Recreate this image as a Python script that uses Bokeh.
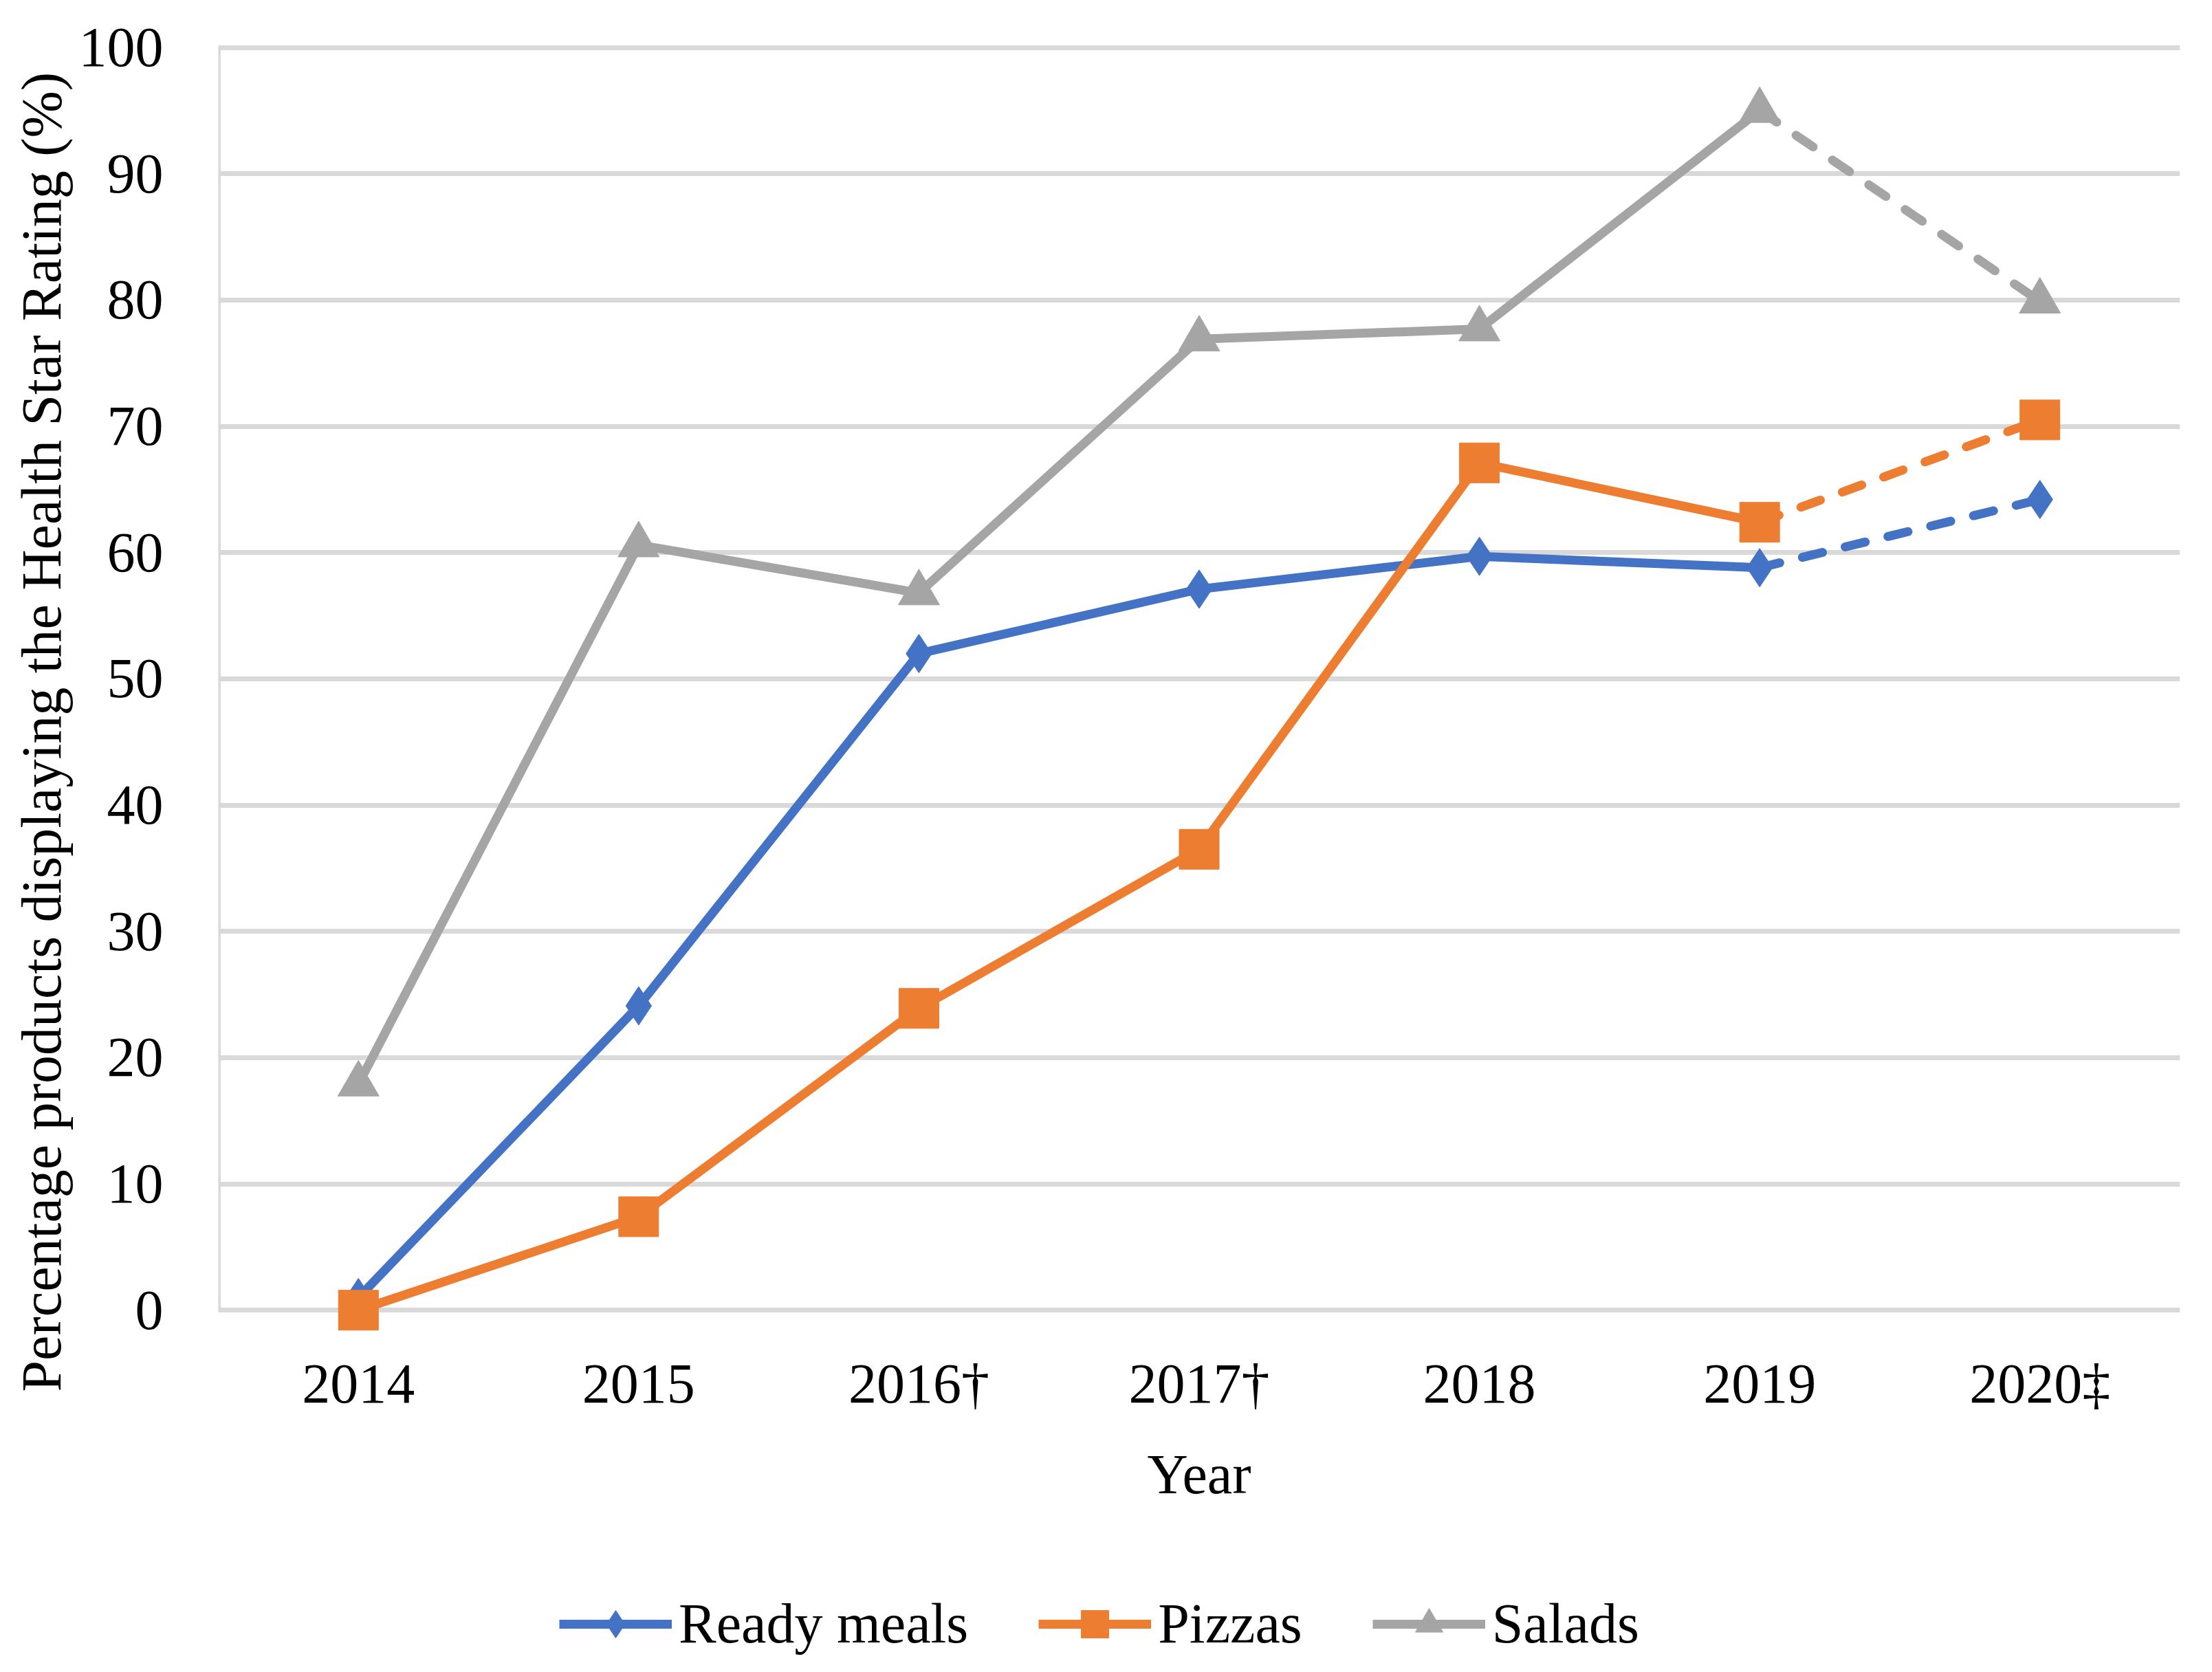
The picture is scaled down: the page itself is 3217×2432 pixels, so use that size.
from bokeh.plotting import figure
from bokeh.layouts import column
from bokeh.models import FactorRange, Range1d, FixedTicker, Legend, LegendItem, Title
from bokeh.embed import file_html
from bokeh.resources import INLINE

# ---- data ----
years = ["2014", "2015", "2016†", "2017†", "2018", "2019", "2020‡"]
ready_meals = [1.0, 24.1, 52.0, 57.1, 59.7, 58.8, 64.2]
pizzas = [0.0, 7.4, 23.9, 36.5, 67.1, 62.4, 70.5]
salads = [17.9, 60.6, 56.8, 76.9, 77.7, 95.0, 79.9]
y_ticks = [0, 10, 20, 30, 40, 50, 60, 70, 80, 90, 100]
series_names = ["Ready meals", "Pizzas", "Salads"]
y_title = "Percentage products displaying the Health Star Rating (%)"
x_title = "Year"

FONT = "Liberation Serif"
FS = "82px"
GRID = "#D9D9D9"

p = figure(
    x_range=FactorRange(*years, range_padding=0),
    y_range=Range1d(-2.0, 100.3),
    frame_width=2853, frame_height=1879,
    min_border_left=317, min_border_top=63, min_border_right=31, min_border_bottom=300,
    output_backend="svg", toolbar_location=None,
)
p.outline_line_color = None
p.background_fill_color = "white"
p.border_fill_color = "white"

# grid
p.xgrid.visible = False
p.ygrid.ticker = FixedTicker(ticks=y_ticks)
p.ygrid.grid_line_color = GRID
p.ygrid.grid_line_width = 7

# y axis
p.yaxis.ticker = FixedTicker(ticks=y_ticks)
p.yaxis.axis_line_color = None
p.yaxis.major_tick_out = 0
p.yaxis.major_tick_in = 0
p.yaxis.minor_tick_out = 0
p.yaxis.minor_tick_in = 0
p.yaxis.major_label_standoff = 80
p.yaxis.major_label_text_font = FONT
p.yaxis.major_label_text_font_size = FS
p.yaxis.major_label_text_color = "black"

ytitle = Title(text=y_title, align="left", offset=-82, standoff=12,
               text_font=FONT, text_font_size=FS, text_font_style="normal",
               text_color="black")
p.add_layout(ytitle, "left")

# x axis
p.xaxis.axis_line_color = None
p.xaxis.major_tick_out = 0
p.xaxis.major_tick_in = 0
p.xaxis.major_label_standoff = 24
p.xaxis.major_label_text_font = FONT
p.xaxis.major_label_text_font_size = FS
p.xaxis.major_label_text_color = "black"
p.xaxis.axis_label = x_title
p.xaxis.axis_label_text_font = FONT
p.xaxis.axis_label_text_font_size = FS
p.xaxis.axis_label_text_font_style = "normal"
p.xaxis.axis_label_text_color = "black"
p.xaxis.axis_label_standoff = 38

# left axis line (from 0 to 100 only)
p.segment(x0=[0], y0=[y_ticks[0]], x1=[0], y1=[y_ticks[-1]], line_color=GRID, line_width=7)

colors = ["#4472C4", "#ED7D31", "#A5A5A5"]
markers = [("diamond", 56), ("square", 58), ("triangle", 60)]
values = [ready_meals, pizzas, salads]

# legend strip below the chart
p2 = figure(width=3201, height=174, x_range=Range1d(0, 1), y_range=Range1d(0, 1),
            x_axis_location=None, y_axis_location=None, min_border=0,
            output_backend="svg", toolbar_location=None)
p2.outline_line_color = None
p2.grid.visible = False
p2.background_fill_color = "white"
p2.border_fill_color = "white"

nan = float("nan")
items = []
for name, vals, col, (mk, sz) in zip(series_names, values, colors, markers):
    p.line(years[:6], vals[:6], line_color=col, line_width=13, line_join="round")
    p.line(years[5:], vals[5:], line_color=col, line_width=13, line_dash="30 34",
           line_cap="round")
    p.scatter(years, vals, marker=mk, size=sz, fill_color=col, line_color=col, line_width=1)
    # legend swatches (same styles, no visible data)
    lk = p2.line([nan], [nan], line_color=col, line_width=13)
    sk = p2.scatter([nan], [nan], marker=mk, size=sz, fill_color=col, line_color=col)
    items.append(LegendItem(label=name, renderers=[lk, sk]))

legend = Legend(items=items, orientation="horizontal", location=(496, 4),
                glyph_width=164, glyph_height=100, label_standoff=10, spacing=102,
                padding=0, margin=0, border_line_color=None, background_fill_alpha=0,
                label_text_font=FONT, label_text_font_size=FS, label_text_color="black")
p2.add_layout(legend)

layout = column(p, p2, spacing=0)
open("out.html", "w").write(file_html(layout, INLINE))
